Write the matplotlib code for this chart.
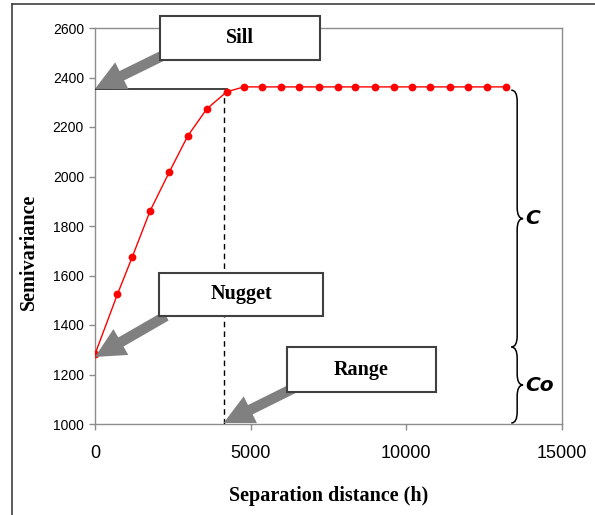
import matplotlib
matplotlib.use("Agg")
import matplotlib.pyplot as plt
from matplotlib.patches import FancyArrowPatch, PathPatch, Rectangle
from matplotlib.path import Path
from matplotlib.lines import Line2D

lag = [0, 720, 1200, 1770, 2390, 2980, 3590, 4230, 4780, 5370, 5970, 6560,
       7200, 7800, 8360, 9000, 9590, 10190, 10750, 11390, 11990, 12580, 13190]
semivar = [1282, 1524, 1676, 1861, 2019, 2164, 2273, 2342, 2362, 2362, 2362,
           2362, 2362, 2362, 2362, 2362, 2362, 2362, 2362, 2362, 2362, 2362, 2362]

sill = 2354
range_h = 4130
nugget_tip = 1271
brace_split = 1311
x_ticks = [0, 5000, 10000, 15000]
y_ticks = list(range(1000, 2601, 200))

GRID = "#8c8c8c"
ARROW = "#808080"
BOX_EDGE = "#404040"
SERIF = "Liberation Serif"
SANS = "Liberation Sans"

fig = plt.figure(figsize=(5.95, 5.15), dpi=100)
ax = fig.add_axes([95 / 595, 1 - 424 / 515, 467 / 595, 396 / 515])

ax.plot(lag, semivar, color="red", lw=1.0, marker="o", ms=5.6,
        markeredgewidth=0, zorder=4)

ax.set_xlim(0, 15000)
ax.set_ylim(1000, 2600)
ax.set_xticks(x_ticks)
ax.set_yticks(y_ticks)
for s in ax.spines.values():
    s.set_color(GRID)
    s.set_linewidth(1.0)
ax.tick_params(axis="both", direction="out", color=GRID, length=4, width=1)
ax.tick_params(axis="y", labelsize=10, pad=4)
ax.tick_params(axis="x", labelsize=13, pad=11)
for lbl in ax.get_xticklabels() + ax.get_yticklabels():
    lbl.set_family(SANS)

ax.set_xlabel("Separation distance (h)", family=SERIF, fontweight="bold",
              fontsize=14.5)
ax.set_ylabel("Semivariance", family=SERIF, fontweight="bold", fontsize=14.5)
ax.xaxis.set_label_coords(0.5, (424 - 486) / 396)
ax.yaxis.set_label_coords((39 - 95) / 467, (424 - 252) / 396)

# sill line and range marker
ax.plot([0, 4230], [sill, sill], color="#222222", lw=1.2, zorder=3)
ax.plot([range_h, range_h], [1000, 2342], color="black", lw=1.0,
        ls=(0, (4, 3)), zorder=3)


def data_from_px(px, py):
    return ((px - 95) / 467 * 15000, 1000 + (424 - py) / 396 * 1600)


def arrow(tail_px, tip):
    a = FancyArrowPatch(data_from_px(*tail_px), tip,
                        arrowstyle="simple,head_length=21.5,head_width=21.5,tail_width=7.5",
                        mutation_scale=1, shrinkA=0, shrinkB=0,
                        color=ARROW, lw=0, zorder=5, clip_on=False)
    ax.add_patch(a)


def label_box(x0, y0, x1, y1, text):
    (dx0, dy1) = data_from_px(x0, y0)
    (dx1, dy0) = data_from_px(x1, y1)
    ax.add_patch(Rectangle((dx0, dy0), dx1 - dx0, dy1 - dy0, facecolor="white",
                           edgecolor=BOX_EDGE, lw=1.5, zorder=6, clip_on=False))
    ax.text((dx0 + dx1) / 2, (dy0 + dy1) / 2, text, family=SERIF,
            fontweight="bold", fontsize=14.5, ha="center", va="center", zorder=7)


arrow((164, 55), (0, sill))
arrow((166, 316), (0, nugget_tip))
arrow((294, 388), (range_h, 1004))

label_box(160, 16, 320, 60, "Sill")
label_box(159, 273, 323, 316, "Nugget")
label_box(287, 347, 436, 392, "Range")


def brace(x0, ytop, ybot, w=190, r=45):
    ymid = (ytop + ybot) / 2
    verts = [(x0 - w, ytop), (x0, ytop), (x0, ytop - r),
             (x0, ymid + r),
             (x0, ymid), (x0 + w, ymid),
             (x0, ymid), (x0, ymid - r),
             (x0, ybot + r),
             (x0, ybot), (x0 - w, ybot)]
    codes = [Path.MOVETO, Path.CURVE3, Path.CURVE3, Path.LINETO,
             Path.CURVE3, Path.CURVE3, Path.CURVE3, Path.CURVE3,
             Path.LINETO, Path.CURVE3, Path.CURVE3]
    ax.add_patch(PathPatch(Path(verts, codes), facecolor="none",
                           edgecolor="black", lw=1.1, zorder=4, clip_on=False))
    return ymid


c_mid = brace(13560, sill - 5, brace_split)
co_mid = brace(13560, brace_split, 1004)
ax.text(13830, c_mid, "C", family="DejaVu Sans", fontweight="bold",
        style="italic", fontsize=14.5, va="center", ha="left")
ax.text(13830, co_mid, "Co", family="DejaVu Sans", fontweight="bold",
        style="italic", fontsize=14.5, va="center", ha="left")

# outer frame of the original figure
fig.add_artist(Line2D([12 / 595, 12 / 595], [0, 1 - 4 / 515],
                      color="#404040", lw=1.2))
fig.add_artist(Line2D([12 / 595, 1], [1 - 4 / 515, 1 - 4 / 515],
                      color="#404040", lw=1.2))

fig.savefig("out.png", dpi=100)
